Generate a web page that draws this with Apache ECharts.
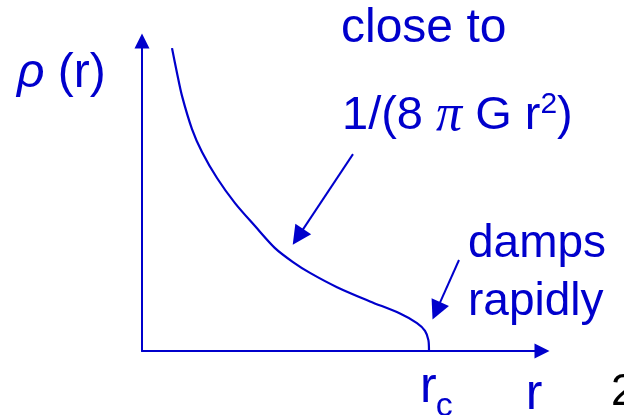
<!DOCTYPE html>
<html>
<head>
<meta charset="utf-8">
<script src="https://cdn.jsdelivr.net/npm/echarts@6/dist/echarts.min.js"></script>
<style>
  html, body { margin: 0; padding: 0; background: #ffffff; }
  #chart { width: 624px; height: 415px; }
</style>
</head>
<body>
<div id="chart"></div>
<script>
// Density profile rho(r): close to 1/r^2 at small r, then damping rapidly to zero at r_c
const radius  = [0.75, 0.875, 1.0, 1.25, 1.5, 1.875, 2.325, 2.825, 3.325, 3.775, 4.2, 4.875, 5.7, 6.45, 6.875, 7.075, 7.16, 7.175];
const density = [9.77, 8.97, 8.23, 7.16, 6.42, 5.58, 4.77, 4.03, 3.32, 2.87, 2.52, 2.06, 1.60, 1.21, 0.90, 0.65, 0.35, 0.00];
const coreRadius = 7.175;

// Annotation arrows pointing at the curve: start and end in (r, rho) units
const arrowStart = [[5.275, 6.35], [7.925, 2.935]];
const arrowEnd   = [[3.90, 3.68], [7.36, 1.30]];

const BLUE = '#0000CC';
const FONT = '"Liberation Sans", Arial, sans-serif';
const TRIANGLE = 'path://M5,0L10,10L0,10Z';

const curve = radius.map((r, i) => [r, density[i]]);
const arrows = arrowStart.map((s, i) => ({ coords: [s, arrowEnd[i]] }));

function label(text, x, y, size, opts) {
  opts = opts || {};
  return {
    type: 'text',
    x: x, y: y,
    style: {
      text: text,
      font: (opts.italic ? 'italic ' : '') + size + 'px ' + FONT,
      fill: opts.color || BLUE,
      rich: opts.rich,
      align: 'left', verticalAlign: 'middle',
      textAlign: 'left', textVerticalAlign: 'middle'
    }
  };
}

const chart = echarts.init(document.getElementById('chart'), null, { renderer: 'canvas' });

chart.setOption({
  animation: false,
  backgroundColor: '#ffffff',
  grid: { left: 142, right: 82, top: 41, bottom: 64, containLabel: false },
  xAxis: {
    type: 'value', min: 0, max: 10,
    axisLine: {
      show: true, onZero: true,
      symbol: ['none', TRIANGLE], symbolSize: [15, 16],
      lineStyle: { color: BLUE, width: 2 }
    },
    axisTick: { show: false }, axisLabel: { show: false }, splitLine: { show: false }
  },
  yAxis: {
    type: 'value', min: 0, max: 10,
    axisLine: {
      show: true,
      symbol: ['none', TRIANGLE], symbolSize: [16, 15],
      lineStyle: { color: BLUE, width: 2 }
    },
    axisTick: { show: false }, axisLabel: { show: false }, splitLine: { show: false }
  },
  series: [
    {
      type: 'line',
      data: curve,
      showSymbol: false,
      smooth: 0.3,
      lineStyle: { color: BLUE, width: 2.2 },
      z: 3
    },
    {
      type: 'lines',
      coordinateSystem: 'cartesian2d',
      data: arrows,
      symbol: ['none', TRIANGLE],
      symbolSize: [16, 19],
      lineStyle: { color: BLUE, width: 2, opacity: 1, curveness: 0 },
      itemStyle: { color: BLUE },
      z: 4
    }
  ],
  graphic: [
    label('close to', 341, 29, 48),
    label('{t|1/(8 }{p|π}{t| G r}{s|2}{t|)}', 342, 116, 47, {
      rich: {
        t: { fontSize: 47, fontFamily: FONT, fill: BLUE, color: BLUE },
        p: { fontSize: 52, fontStyle: 'italic', fontFamily: '"Liberation Serif", serif', fill: BLUE, color: BLUE },
        s: { fontSize: 30, fontFamily: FONT, fill: BLUE, color: BLUE, verticalAlign: 'top', lineHeight: 38 }
      }
    }),
    label('{i|ρ} (r)', 17, 74, 48, {
      rich: {
        i: { fontSize: 48, fontStyle: 'italic', fontFamily: FONT, fill: BLUE, color: BLUE }
      }
    }),
    label('damps', 468, 244, 46),
    label('rapidly', 468, 302, 46),
    label('r', 420, 388.5, 50),
    label('c', 435.7, 406.5, 34),
    label('r', 525.7, 395, 50),
    label('2', 611, 392.6, 44, { color: '#000000' })
  ]
});
</script>
</body>
</html>
